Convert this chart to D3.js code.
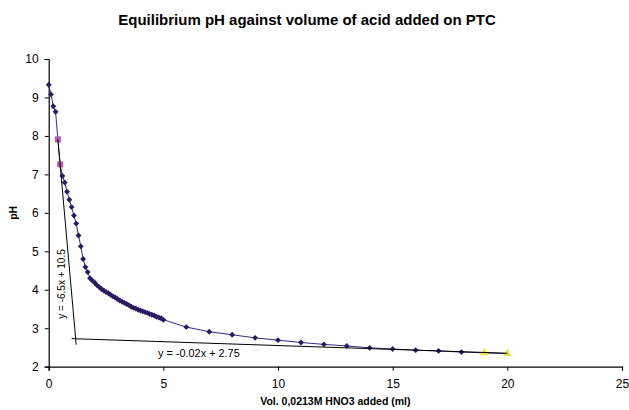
<!DOCTYPE html>
<html>
<head>
<meta charset="utf-8">
<script src="https://cdn.jsdelivr.net/npm/d3@7"></script>
<style>
  body { margin: 0; background: #fff; }
  svg { font-family: "Liberation Sans", Arial, sans-serif; }
</style>
</head>
<body>
<div class="chart"></div>
<script>
const volume = [0, 0.1, 0.2, 0.3, 0.4, 0.5, 0.6, 0.7, 0.8, 0.9, 1.0, 1.1, 1.2, 1.3, 1.4, 1.5, 1.6, 1.7, 1.8, 1.9,
  2.0, 2.1, 2.2, 2.3, 2.4, 2.5, 2.6, 2.7, 2.8, 2.9, 3.0, 3.1, 3.2, 3.3, 3.4, 3.5, 3.6, 3.7, 3.8, 3.9,
  4.0, 4.1, 4.2, 4.3, 4.4, 4.5, 4.6, 4.7, 4.8, 4.9, 5.0,
  6, 7, 8, 9, 10, 11, 12, 13, 14, 15, 16, 17, 18, 19, 20];
const pH = [9.33, 9.08, 8.77, 8.63, 7.91, 7.26, 6.96, 6.79, 6.55, 6.34, 6.15, 5.93, 5.72, 5.41, 5.13, 4.80, 4.59, 4.46, 4.30, 4.24,
  4.19, 4.12, 4.07, 4.02, 3.98, 3.94, 3.91, 3.87, 3.83, 3.80, 3.76, 3.72, 3.69, 3.66, 3.63, 3.60, 3.56, 3.53, 3.51, 3.48,
  3.46, 3.44, 3.42, 3.40, 3.37, 3.35, 3.33, 3.30, 3.28, 3.26, 3.22,
  3.03, 2.91, 2.83, 2.75, 2.69, 2.63, 2.58, 2.54, 2.49, 2.46, 2.43, 2.41, 2.38, 2.36, 2.34];

// points used for the two trendlines
const steepVol = [0.4, 0.5];
const steepPH = [7.91, 7.26];
const flatVol = [19, 20];
const flatPH = [2.36, 2.34];

// trendline segments as drawn (start, end)
const steepLineVol = [0.4, 1.2];
const steepLinePH = [7.91, 2.57];
const flatLineVol = [1.0, 20];
const flatLinePH = [2.73, 2.35];
const steepLabel = "y = -6.5x + 10.5";
const flatLabel = "y = -0.02x + 2.75";

const xTicks = [0, 5, 10, 15, 20, 25];
const yTicks = [2, 3, 4, 5, 6, 7, 8, 9, 10];

const title = "Equilibrium pH against volume of acid added on PTC";
const xTitle = "Vol. 0,0213M HNO3 added (ml)";
const yTitle = "pH";

// chart size
const width = 629;
const height = 410;
const margin = {top: 59, right: 7, bottom: 43.3, left: 48.7};

const svg = d3.select('.chart')
  .append('svg')
  .attr('width', width)
  .attr('height', height);

const x = d3.scaleLinear()
  .domain([0, 25])
  .range([margin.left, width - margin.right]);

const y = d3.scaleLinear()
  .domain([2, 10])
  .range([height - margin.bottom, margin.top]);

// title
svg.append('text')
  .attr('x', 307)
  .attr('y', 25)
  .attr('text-anchor', 'middle')
  .attr('font-size', 15)
  .attr('font-weight', 'bold')
  .text(title);

// axes
const xAxis = svg.append('g')
  .attr('transform', 'translate(0,' + (height - margin.bottom) + ')')
  .call(d3.axisBottom(x).tickValues(xTicks).tickSize(4).tickPadding(9).tickFormat(d3.format('d')));

const yAxis = svg.append('g')
  .attr('transform', 'translate(' + margin.left + ',0)')
  .call(d3.axisLeft(y).tickValues(yTicks).tickSize(4).tickPadding(6).tickFormat(d3.format('d')));

[xAxis, yAxis].forEach(a => {
  a.select('.domain').attr('stroke', '#000').attr('stroke-width', 1.2);
  a.selectAll('.tick line').attr('stroke', '#000');
  a.selectAll('.tick text')
    .attr('font-size', 12)
    .attr('font-family', '"Liberation Sans", Arial, sans-serif')
    .attr('fill', '#000');
});

// axis titles
svg.append('text')
  .attr('x', (margin.left + width - margin.right) / 2)
  .attr('y', 405)
  .attr('text-anchor', 'middle')
  .attr('font-size', 10.5)
  .attr('font-weight', 'bold')
  .text(xTitle);

svg.append('text')
  .attr('transform', 'translate(17,' + ((margin.top + height - margin.bottom) / 2) + ') rotate(-90)')
  .attr('text-anchor', 'middle')
  .attr('font-size', 10.5)
  .attr('font-weight', 'bold')
  .text(yTitle);

const main = volume.map((v, i) => ({v: v, p: pH[i]}));

const line = d3.line()
  .x(d => x(d.v))
  .y(d => y(d.p));

// main curve
svg.append('path')
  .datum(main)
  .attr('fill', 'none')
  .attr('stroke', '#3a2a80')
  .attr('stroke-width', 1)
  .attr('d', line);

// pink square markers (steep trendline points)
svg.selectAll('.pink')
  .data(steepVol.map((v, i) => ({v: v, p: steepPH[i]})))
  .enter()
  .append('rect')
  .attr('class', 'pink')
  .attr('x', d => x(d.v) - 3)
  .attr('y', d => y(d.p) - 3)
  .attr('width', 6)
  .attr('height', 6)
  .style('fill', '#b85aa8');

// yellow triangle markers (flat trendline points)
svg.selectAll('.yellow')
  .data(flatVol.map((v, i) => ({v: v, p: flatPH[i]})))
  .enter()
  .append('path')
  .attr('class', 'yellow')
  .attr('transform', d => 'translate(' + x(d.v) + ',' + y(d.p) + ')')
  .attr('d', d3.symbol(d3.symbolTriangle, 32)())
  .style('fill', '#e6e63a');

// diamond markers of the main series
svg.selectAll('.dot')
  .data(main.filter(d => !steepVol.includes(d.v) && !flatVol.includes(d.v)))
  .enter()
  .append('path')
  .attr('class', 'dot')
  .attr('transform', d => 'translate(' + x(d.v) + ',' + y(d.p) + ')')
  .attr('d', d3.symbol(d3.symbolDiamond2, 22)())
  .style('fill', '#2a1a64');

// trendlines
svg.append('line')
  .attr('x1', x(steepLineVol[0]))
  .attr('y1', y(steepLinePH[0]))
  .attr('x2', x(steepLineVol[1]))
  .attr('y2', y(steepLinePH[1]))
  .attr('stroke', '#000')
  .attr('stroke-width', 1);

svg.append('line')
  .attr('x1', x(flatLineVol[0]))
  .attr('y1', y(flatLinePH[0]))
  .attr('x2', x(flatLineVol[1]))
  .attr('y2', y(flatLinePH[1]))
  .attr('stroke', '#000')
  .attr('stroke-width', 1);

// trendline equations
svg.append('text')
  .attr('transform', 'translate(65,284) rotate(-90)')
  .attr('text-anchor', 'middle')
  .attr('font-size', 10)
  .text(steepLabel);

svg.append('text')
  .attr('x', 158)
  .attr('y', 357)
  .attr('font-size', 10.9)
  .text(flatLabel);
</script>
</body>
</html>
